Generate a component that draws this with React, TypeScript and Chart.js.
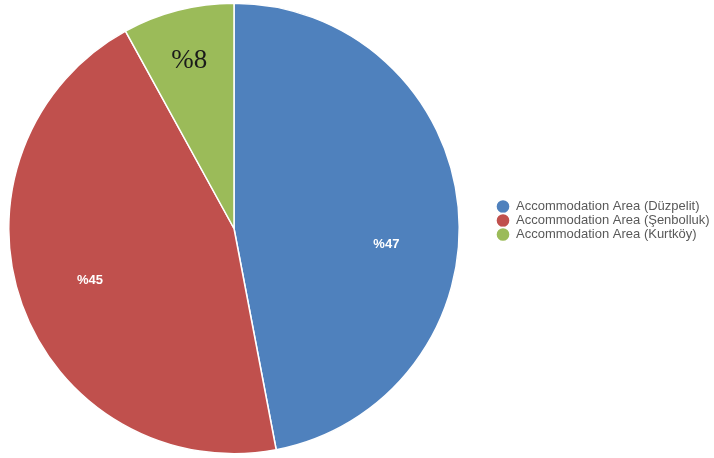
import React, { useEffect, useRef } from "react";
import { Chart, registerables } from "chart.js";

Chart.register(...registerables);

const categories = [
  "Accommodation Area (Düzpelit)",
  "Accommodation Area (Şenbolluk)",
  "Accommodation Area (Kurtköy)",
];
const values = [47, 45, 8];
const labelTexts = ["%47", "%45", "%8"];
const colors = ["#4F81BD", "#C0504D", "#9BBB59"];

// label placement: [fraction along slice angle, fraction of radius]
const labelPlacement = [
  [0.567, 0.68],
  [0.5, 0.68],
  [0.48, 0.77],
];
const labelFonts = [
  { font: "bold 13px 'Liberation Sans', Arial, sans-serif", color: "#FFFFFF" },
  { font: "bold 13px 'Liberation Sans', Arial, sans-serif", color: "#FFFFFF" },
  { font: "27px 'Liberation Serif', 'Times New Roman', serif", color: "#1a1a1a" },
];

const PIE_AREA = { left: 8, right: 460 };
const LEGEND_LEFT = 495.5;
const LEGEND_SHIFT_Y = -8;

const layoutPlugin = {
  id: "placeBoxes",
  afterLayout(chart: any) {
    const ca = chart.chartArea;
    ca.left = PIE_AREA.left;
    ca.right = PIE_AREA.right;
    ca.width = ca.right - ca.left;
    const lg = chart.legend;
    if (lg) {
      const w = lg.width;
      lg.left = LEGEND_LEFT;
      lg.right = LEGEND_LEFT + w;
      lg.top += LEGEND_SHIFT_Y;
      lg.bottom += LEGEND_SHIFT_Y;
    }
  },
};

const sliceLabelPlugin = {
  id: "sliceLabels",
  afterDatasetsDraw(chart: any) {
    const ctx = chart.ctx;
    const meta = chart.getDatasetMeta(0);
    meta.data.forEach((arc: any, i: number) => {
      const { x, y, startAngle, endAngle, outerRadius } = arc.getProps(
        ["x", "y", "startAngle", "endAngle", "outerRadius"],
        true
      );
      const [fa, fr] = labelPlacement[i];
      const a = startAngle + (endAngle - startAngle) * fa;
      const r = outerRadius * fr;
      ctx.save();
      ctx.font = labelFonts[i].font;
      ctx.fillStyle = labelFonts[i].color;
      ctx.textAlign = "center";
      ctx.textBaseline = "middle";
      ctx.fillText(labelTexts[i], x + Math.cos(a) * r, y + Math.sin(a) * r);
      ctx.restore();
    });
  },
};

export default function App() {
  const ref = useRef<HTMLCanvasElement>(null);
  useEffect(() => {
    document.body.style.margin = "0";
    const chart = new Chart(ref.current!, {
      type: "pie",
      data: {
        labels: categories,
        datasets: [
          {
            data: values,
            backgroundColor: colors,
            borderColor: "#FFFFFF",
            borderWidth: 1.5,
          },
        ],
      },
      options: {
        responsive: false,
        animation: false,
        layout: { padding: { top: 2, bottom: 3, left: 8, right: 0 } },
        plugins: {
          tooltip: { enabled: false },
          legend: {
            position: "right",
            labels: {
              usePointStyle: true,
              pointStyle: "circle",
              boxWidth: 17,
              boxHeight: 10,
              padding: 1,
              color: "#595959",
              font: { family: "'Liberation Sans', Arial, sans-serif", size: 13 },
            },
          },
        },
      },
      plugins: [layoutPlugin, sliceLabelPlugin],
    });
    return () => chart.destroy();
  }, []);
  return (
    <div style={{ position: "absolute", left: 0, top: 0, width: 714, height: 458, background: "#fff" }}>
      <canvas ref={ref} width={714} height={458} style={{ display: "block" }} />
    </div>
  );
}
